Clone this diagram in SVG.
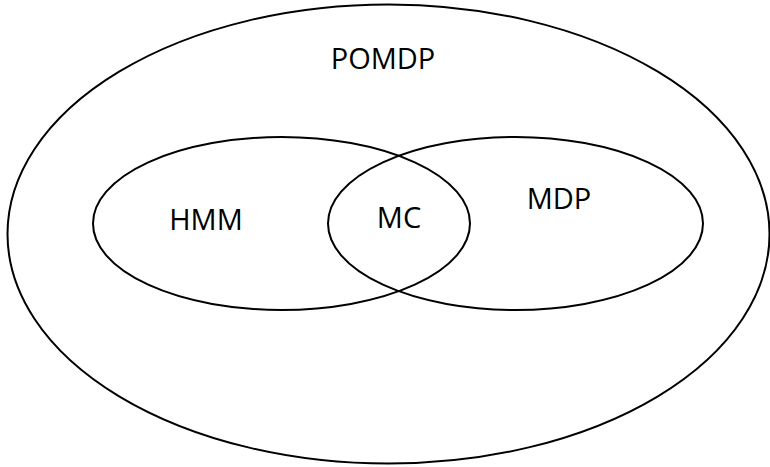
<svg xmlns="http://www.w3.org/2000/svg" width="770" height="467" viewBox="0 0 770 467">
<style>
.s{fill:none;stroke:#000;stroke-width:2}
.t{font-family:"Open Sans",sans-serif;font-size:29px;fill:#000;text-anchor:middle}
</style>
<rect width="770" height="467" fill="#fff"/>
<g id="pomdp"><ellipse class="s" cx="388.5" cy="234" rx="381" ry="229.5"/><text class="t" x="383" y="68.5">POMDP</text></g>
<g id="hmm"><ellipse class="s" cx="281.5" cy="223.5" rx="188.5" ry="86.5"/><text class="t" x="206" y="229.5">HMM</text></g>
<g id="mdp"><ellipse class="s" cx="515.5" cy="223.5" rx="187.5" ry="86.5"/><text class="t" x="559" y="209">MDP</text></g>
<g id="mc"><text class="t" x="399" y="228">MC</text></g>
<g id="connectors"/>
</svg>
